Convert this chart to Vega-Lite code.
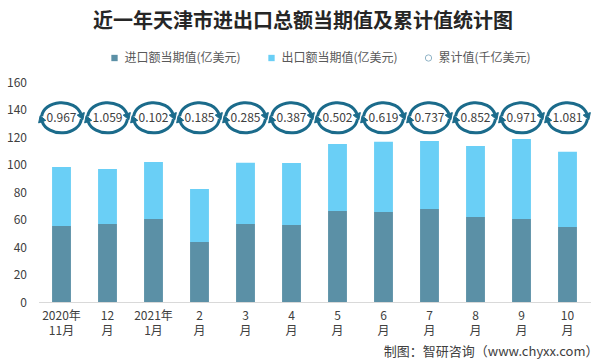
{
  "$schema": "https://vega.github.io/schema/vega-lite/v6.json",
  "width": 552,
  "height": 220,
  "autosize": {"type": "none"},
  "padding": {"left": 38.5, "top": 82, "right": 15.5, "bottom": 61},
  "background": "#ffffff",
  "config": {
    "font": "Noto Sans CJK SC",
    "view": {"stroke": null},
    "axis": {"labelFont": "Noto Sans CJK SC", "labelFontSize": 12, "labelColor": "#404040", "ticks": false, "grid": false},
    "axisY": {"labelOverlap": false, "domain": false, "labelPadding": 12, "title": null}
  },
  "title": {
    "text": "近一年天津市进出口总额当期值及累计值统计图",
    "font": "Noto Sans CJK SC",
    "fontSize": 20,
    "fontWeight": "bold",
    "color": "#262626",
    "anchor": "middle",
    "frame": "group",
    "offset": 0,
    "dx": -11.5,
    "dy": -20
  },
  "data": {
    "values": [
      {"月份": "2020年11月", "进口额当期值(亿美元)": 55.3, "出口额当期值(亿美元)": 42.9, "累计值": 0.967},
      {"月份": "12月", "进口额当期值(亿美元)": 56.7, "出口额当期值(亿美元)": 40.0, "累计值": 1.059},
      {"月份": "2021年1月", "进口额当期值(亿美元)": 60.4, "出口额当期值(亿美元)": 41.4, "累计值": 0.102},
      {"月份": "2月", "进口额当期值(亿美元)": 43.6, "出口额当期值(亿美元)": 38.6, "累计值": 0.185},
      {"月份": "3月", "进口额当期值(亿美元)": 56.7, "出口额当期值(亿美元)": 44.6, "累计值": 0.285},
      {"月份": "4月", "进口额当期值(亿美元)": 56.0, "出口额当期值(亿美元)": 45.1, "累计值": 0.387},
      {"月份": "5月", "进口额当期值(亿美元)": 66.2, "出口额当期值(亿美元)": 48.7, "累计值": 0.502},
      {"月份": "6月", "进口额当期值(亿美元)": 65.5, "出口额当期值(亿美元)": 51.1, "累计值": 0.619},
      {"月份": "7月", "进口额当期值(亿美元)": 67.6, "出口额当期值(亿美元)": 49.5, "累计值": 0.737},
      {"月份": "8月", "进口额当期值(亿美元)": 61.8, "出口额当期值(亿美元)": 51.7, "累计值": 0.852},
      {"月份": "9月", "进口额当期值(亿美元)": 60.4, "出口额当期值(亿美元)": 58.1, "累计值": 0.971},
      {"月份": "10月", "进口额当期值(亿美元)": 54.5, "出口额当期值(亿美元)": 54.8, "累计值": 1.081}
    ]
  },
  "encoding": {
    "x": {
      "field": "月份",
      "type": "nominal",
      "sort": null,
      "scale": {"paddingInner": 0.59, "paddingOuter": 0.295},
      "axis": {
        "labelAngle": 0,
        "labelPadding": 8,
        "labelLineHeight": 15,
        "labelBaseline": "top",
        "labelOverlap": false,
        "labelExpr": "indexof(datum.value,'年')>=0 ? [slice(datum.value,0,indexof(datum.value,'年')+1), slice(datum.value,indexof(datum.value,'年')+1)] : [slice(datum.value,0,-1),'月']",
        "domain": true,
        "domainColor": "#d9d9d9",
        "domainWidth": 1,
        "title": "制图：智研咨询（www.chyxx.com）",
        "titleFont": "Noto Sans CJK SC",
        "titleFontSize": 13,
        "titleFontWeight": "normal",
        "titleColor": "#404040",
        "titleAlign": "right",
        "titleAnchor": "end",
        "titleBaseline": "alphabetic",
        "titleX": 559.5,
        "titleY": 53
      }
    }
  },
  "layer": [
    {
      "transform": [
        {"fold": ["进口额当期值(亿美元)", "出口额当期值(亿美元)"], "as": ["类型", "金额"]}
      ],
      "mark": {"type": "bar"},
      "encoding": {
        "y": {
          "field": "金额",
          "type": "quantitative",
          "stack": "zero",
          "scale": {"domain": [0, 160], "nice": false},
          "axis": {"values": [0, 20, 40, 60, 80, 100, 120, 140, 160], "labelOverlap": false, "title": null}
        },
        "color": {
          "field": "类型",
          "type": "nominal",
          "scale": {
            "domain": ["进口额当期值(亿美元)", "出口额当期值(亿美元)", "累计值(千亿美元)"],
            "range": ["#5b90a6", "#6acff6", "#ffffff"]
          },
          "legend": {
            "title": null,
            "orient": "none",
            "direction": "horizontal",
            "legendX": 70,
            "legendY": -30,
            "padding": 0,
            "symbolSize": 40,
            "symbolType": "square",
            "labelFont": "Noto Sans CJK SC",
            "labelFontSize": 12,
            "labelColor": "#595959",
            "labelOffset": 4,
            "columnPadding": 24,
            "encode": {
              "symbols": {
                "update": {
                  "shape": {"signal": "datum.value === '累计值(千亿美元)' ? 'circle' : 'square'"},
                  "stroke": {"signal": "datum.value === '累计值(千亿美元)' ? '#8fb3c6' : 'transparent'"},
                  "strokeWidth": {"value": 1}
                }
              }
            }
          }
        },
        "order": {"field": "类型", "sort": "descending"}
      }
    },
    {
      "mark": {
        "type": "point",
        "shape": "M-0.946,-0.063A0.95,0.72,0,0,1,0.918,-0.186M0.946,0.063A0.95,0.72,0,0,1,-0.918,0.186",
        "size": 1764,
        "filled": false,
        "stroke": "#1b6b8b",
        "strokeWidth": 3,
        "opacity": 1
      },
      "encoding": {
        "y": {"datum": 134, "type": "quantitative", "axis": {"values": [0, 20, 40, 60, 80, 100, 120, 140, 160], "labelOverlap": false, "title": null}}
      }
    },
    {
      "mark": {
        "type": "point",
        "shape": "M1.018,0.097L0.748,-0.126L1.088,-0.246ZM-1.018,-0.097L-0.748,0.126L-1.088,0.246Z",
        "size": 1764,
        "filled": true,
        "fill": "#1b6b8b",
        "stroke": "#1b6b8b",
        "strokeWidth": 1,
        "opacity": 1
      },
      "encoding": {
        "y": {"datum": 134, "type": "quantitative", "axis": {"values": [0, 20, 40, 60, 80, 100, 120, 140, 160], "labelOverlap": false, "title": null}}
      }
    },
    {
      "mark": {"type": "text", "font": "Noto Sans CJK SC", "fontSize": 12, "color": "#404040", "baseline": "middle", "align": "center"},
      "encoding": {
        "y": {"datum": 134, "type": "quantitative", "axis": {"values": [0, 20, 40, 60, 80, 100, 120, 140, 160], "labelOverlap": false, "title": null}},
        "text": {"field": "累计值", "type": "quantitative", "format": ".3f"}
      }
    }
  ]
}
